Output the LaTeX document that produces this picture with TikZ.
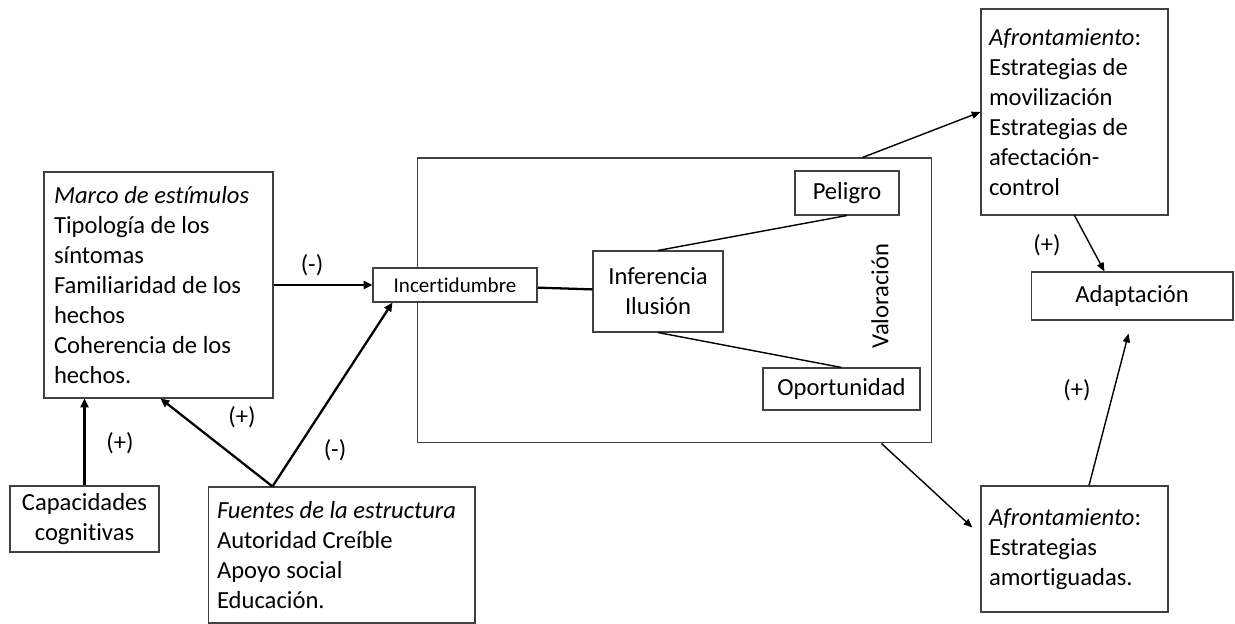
\documentclass[tikz,border=0pt]{standalone}
\usepackage{fontspec}
\setmainfont{Carlito}[Ligatures=NoCommon]
\usetikzlibrary{arrows.meta}

\begin{document}
\begin{tikzpicture}[x=0.02cm,y=-0.02cm,
  caja/.style={draw=black!75,line width=0.6pt,fill=white,inner sep=0pt,font=\fontsize{14}{17}\selectfont},
  flecha/.style={-{Triangle[length=5pt,width=4.5pt]},line width=1.3pt},
  fina/.style={-{Triangle[length=5pt,width=4pt]},line width=0.8pt},
  signo/.style={font=\fontsize{14}{17}\selectfont}]
%picture
\useasboundingbox (0,0) rectangle (1235,624);
\node[caja,minimum width=10.3cm,minimum height=5.7cm] (valbox) at (674.5,300.5) {};
\node[caja,minimum width=4.58cm,minimum height=4.52cm,text width=4.18cm,align=flush left] (marco) at (158.5,285)
  {\textit{Marco de estímulos}\\Tipología de los\\síntomas\\Familiaridad de los\\hechos\\Coherencia de los\\hechos.};
\node[caja,minimum width=2.98cm,minimum height=1.32cm,align=flush center] (cap) at (84.5,519) {Capacidades\\cognitivas};
\node[caja,minimum width=5.34cm,minimum height=2.72cm,text width=4.98cm,align=flush left] (fuentes) at (341.5,555)
  {\textit{Fuentes de la estructura}\\Autoridad Creíble\\Apoyo social\\Educación.};
\node[caja,minimum width=3.28cm,minimum height=0.68cm,font=\fontsize{12}{14}\selectfont] (incert) at (455,285) {Incertidumbre};
\node[caja,minimum width=2.6cm,minimum height=1.62cm,align=flush center] (inf) at (658,291.5) {Inferencia\\Ilusión};
\node[caja,minimum width=2.08cm,minimum height=0.88cm] (pel) at (847,193) {Peligro};
\node[caja,minimum width=3.14cm,minimum height=0.84cm] (opo) at (841.5,389) {Oportunidad};
\node[signo,rotate=90] (valtxt) at (880,296) {Valoración};
\node[caja,minimum width=3.74cm,minimum height=4.12cm,text width=3.42cm,align=flush left] (afr1) at (1074.5,112)
  {\textit{Afrontamiento}:\\Estrategias de\\movilización\\Estrategias de\\afectación-\\control};
\node[caja,minimum width=4.04cm,minimum height=0.96cm] (adapt) at (1132,296) {Adaptación};
\node[caja,minimum width=3.74cm,minimum height=2.52cm,text width=3.42cm,align=flush left] (afr2) at (1074.5,549)
  {\textit{Afrontamiento}:\\Estrategias\\amortiguadas.};
% connectors
\coordinate (fapex) at ([xshift=1.3cm]fuentes.north west);
\draw[flecha] (marco) -- (incert);
\draw[flecha] (cap.north) -- (cap.north |- marco.south);
\draw[flecha] (fapex) -- ([xshift=2.34cm]marco.south west);
\draw[flecha] (fapex) -- ([xshift=0.4cm]incert.south west);
\draw[line width=1.3pt] (incert) -- (inf);
\draw[line width=0.8pt] (inf.north) -- (pel.south);
\draw[line width=0.8pt] (inf.south) -- (opo.north);
\draw[fina] ([xshift=-1.4cm]valbox.north east) -- (afr1.west);
\draw[fina,shorten >=0.22cm] ([xshift=-1.02cm]valbox.south east) -- ([yshift=0.28cm]afr2.west);
\draw[fina] (afr1.south) -- ([xshift=1.48cm]adapt.north west);
\draw[fina,shorten >=0.27cm] ([xshift=0.29cm]afr2.north) -- (adapt.south);
% signs
\node[signo] (sgA) at (312,265) {(-)};
\node[signo] (sgB) at (120,443) {(+)};
\node[signo] (sgC) at (242,417) {(+)};
\node[signo] (sgD) at (335,450) {(-)};
\node[signo] (sgE) at (1047,245) {(+)};
\node[signo] (sgF) at (1077,390) {(+)};
\end{tikzpicture}
\end{document}
